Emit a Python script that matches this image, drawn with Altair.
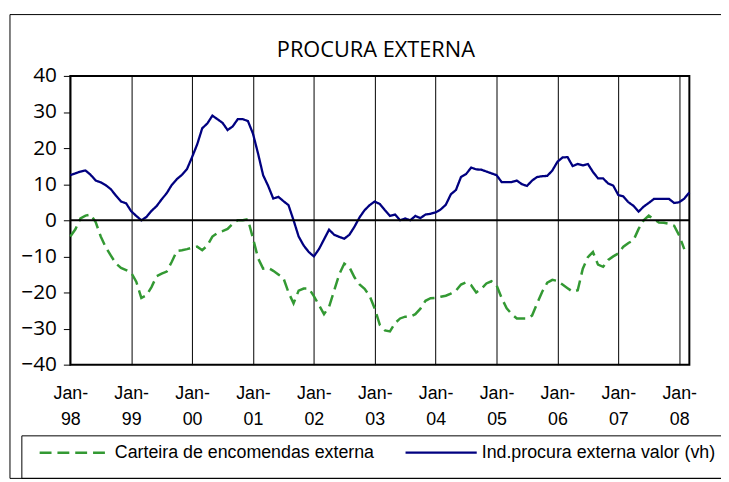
import altair as alt
import pandas as pd
import json

series_names = ["Carteira de encomendas externa", "Ind.procura externa valor (vh)"]
series_colors = ["#339933", "#000080"]

# Monthly values, Jan-98 onwards
carteira = [
    -4.5, -2.5, 0.5, 1.3, 1.6, -0.5, -4.5, -7.5, -9.8, -12.0, -13.2, -13.8,
    -14.5, -17.0, -21.5, -20.8, -18.5, -15.5, -14.8, -14.2, -11.5, -8.5, -8.3, -8.0,
    -7.6, -7.3, -8.3, -7.0, -4.5, -3.5, -3.0, -2.4, -1.0, 0.0, 0.0, 0.3,
    -5.0, -10.5, -13.4, -13.2, -14.0, -15.0, -16.0, -20.0, -23.0, -19.5, -18.9, -18.9,
    -21.0, -23.5, -26.0, -24.0, -19.5, -15.0, -12.0, -13.0, -15.8, -17.8, -19.0, -21.0,
    -24.5, -29.0, -30.5, -30.8, -28.5, -27.2, -26.7, -26.7, -26.0, -24.5, -22.3, -21.6,
    -21.5, -21.2, -20.9, -20.3, -19.5, -17.8, -17.2, -18.0, -20.0, -19.0, -17.5, -16.9,
    -18.0, -21.5, -24.4, -26.0, -27.2, -27.2, -27.2, -26.4, -23.0, -19.8, -17.3, -16.5,
    -16.8, -17.8, -18.8, -19.8, -19.4, -13.4, -10.2, -8.8, -12.3, -12.9, -11.0, -10.0,
    -9.2, -7.3, -6.3, -5.5, -2.4, 0.0, 1.3, 0.3, -0.6, -0.7, -1.0, -1.5,
    -4.2, -8.0,
]

indprocura = [
    12.5, 13.0, 13.5, 13.8, 12.6, 11.0, 10.5, 9.7, 8.6, 6.8, 5.2, 4.7,
    2.5, 1.2, 0.0, 0.9, 2.6, 3.9, 5.8, 7.5, 9.8, 11.4, 12.6, 14.2,
    17.5, 21.0, 25.5, 26.8, 29.0, 28.0, 27.0, 25.0, 26.0, 28.0, 28.0, 27.5,
    24.0, 18.5, 12.5, 9.5, 6.0, 6.5, 5.3, 4.2, 0.0, -4.5, -7.0, -8.8,
    -10.0, -8.0, -5.3, -2.6, -4.0, -4.6, -5.1, -4.0, -1.8, 0.8, 2.8, 4.2,
    5.2, 4.5, 2.8, 1.2, 1.6, 0.0, 0.5, 0.0, 1.2, 0.6, 1.6, 1.8,
    2.2, 3.0, 4.3, 7.2, 8.4, 12.0, 12.8, 14.6, 14.1, 14.0, 13.5, 13.0,
    12.5, 10.6, 10.6, 10.6, 11.0, 10.0, 9.5, 11.0, 12.0, 12.2, 12.3, 13.8,
    16.2, 17.4, 17.5, 15.0, 15.6, 15.2, 15.6, 13.4, 11.6, 11.6, 10.2, 9.6,
    7.0, 6.6, 5.0, 4.0, 2.4, 3.8, 4.8, 5.9, 5.9, 5.9, 5.9, 4.8,
    5.0, 6.0, 7.7,
]

year_labels = ["98", "99", "00", "01", "02", "03", "04", "05", "06", "07", "08"]
y_ticks = [-40, -30, -20, -10, 0, 10, 20, 30, 40]
jan_ticks = [12 * i for i in range(len(year_labels))]
title_text = ["PROCURA EXTERNA"]

rows = []
for i, v in enumerate(carteira):
    rows.append({"m": i, "v": v, "s": series_names[0]})
for i, v in enumerate(indprocura):
    rows.append({"m": i, "v": v, "s": series_names[1]})
df = pd.DataFrame(rows)

W, H = 626, 292

label_expr = "['Jan-', " + json.dumps(year_labels) + "[round(datum.value / 12)]]"

x_enc = alt.X(
    "m:Q",
    scale=alt.Scale(domain=[0, len(indprocura) - 1], nice=False, zero=False),
    axis=alt.Axis(
        values=jan_ticks,
        labelExpr=label_expr,
        title=None,
        grid=True,
        gridColor="black",
        gridWidth=1,
        gridOpacity=1,
        ticks=False,
        tickSize=0,
        domain=False,
        labelFont="Liberation Sans",
        labelFontSize=18,
        labelColor="black",
        labelPadding=20,
        labelLineHeight=27,
        labelAlign="center",
        labelBaseline="top",
        labelFlush=False,
        labelOverlap=False,
    ),
)

y_enc = alt.Y(
    "v:Q",
    scale=alt.Scale(domain=[-40, 40], nice=False),
    axis=alt.Axis(
        values=y_ticks,
        title=None,
        grid=False,
        domain=False,
        ticks=True,
        tickSize=7,
        tickColor="black",
        tickWidth=1,
        labelFont="Open Sans",
        labelFontSize=21,
        labelColor="black",
        labelPadding=7,
        labelOverlap=False,
        labelFlush=False,
    ),
)

lines = alt.Chart(df).mark_line(strokeCap="butt", clip=False).encode(
    x=x_enc,
    y=y_enc,
    color=alt.Color(
        "s:N",
        scale=alt.Scale(domain=series_names, range=series_colors),
        legend=None,
    ),
    strokeDash=alt.StrokeDash(
        "s:N",
        scale=alt.Scale(domain=series_names, range=[[12, 6], [1, 0]]),
        legend=None,
    ),
    strokeWidth=alt.StrokeWidth(
        "s:N",
        scale=alt.Scale(domain=series_names, range=[2.5, 2.3]),
        legend=None,
    ),
    order="m:Q",
)

zero_df = pd.DataFrame({"v": [0]})
zero_line = alt.Chart(zero_df).mark_rule(color="black", strokeWidth=2).encode(y=y_enc)

title_df = pd.DataFrame({"t": title_text})
title_mark = alt.Chart(title_df).mark_text(
    font="Open Sans", fontSize=22, color="black", align="center", baseline="alphabetic"
).encode(text="t:N", x=alt.value(W / 2 - 4), y=alt.value(-19))

box_df = pd.DataFrame({"a": [0]})
outer_box = alt.Chart(box_df).mark_rect(
    fillOpacity=0, stroke="black", strokeWidth=1, clip=False
).encode(x=alt.value(-61), x2=alt.value(675), y=alt.value(-62), y2=alt.value(407))
legend_box = alt.Chart(box_df).mark_rect(
    fillOpacity=0, stroke="black", strokeWidth=1, clip=False
).encode(x=alt.value(-49), x2=alt.value(675), y=alt.value(364), y2=alt.value(407))

# Legend (drawn as real text + line samples)
LEG_Y = 381
leg1_df = pd.DataFrame({"s": [series_names[0]]})
leg2_df = pd.DataFrame({"s": [series_names[1]]})
leg1_sym = alt.Chart(leg1_df).mark_rule(
    color=series_colors[0], strokeWidth=2.5, strokeDash=[12, 6], strokeCap="butt"
).encode(x=alt.value(-31), x2=alt.value(40), y=alt.value(LEG_Y))
leg1_txt = alt.Chart(leg1_df).mark_text(
    font="Liberation Sans", fontSize=18, color="black", align="left", baseline="middle"
).encode(text="s:N", x=alt.value(45), y=alt.value(LEG_Y))
leg2_sym = alt.Chart(leg2_df).mark_rule(
    color=series_colors[1], strokeWidth=2.3, strokeCap="butt"
).encode(x=alt.value(339), x2=alt.value(411), y=alt.value(LEG_Y))
leg2_txt = alt.Chart(leg2_df).mark_text(
    font="Liberation Sans", fontSize=18, color="black", align="left", baseline="middle"
).encode(text="s:N", x=alt.value(416), y=alt.value(LEG_Y))

chart = (
    alt.layer(
        outer_box, legend_box, lines, zero_line, title_mark,
        leg1_sym, leg1_txt, leg2_sym, leg2_txt,
    )
    .properties(
        width=W,
        height=H,
        autosize=alt.AutoSizeParams(type="none"),
        padding={"left": 63, "top": 66, "right": 32, "bottom": 116},
        background="white",
    )
    .configure_view(stroke="black", strokeWidth=2)
)

chart.save("out.html", embed_options={"renderer": "svg", "actions": False})
